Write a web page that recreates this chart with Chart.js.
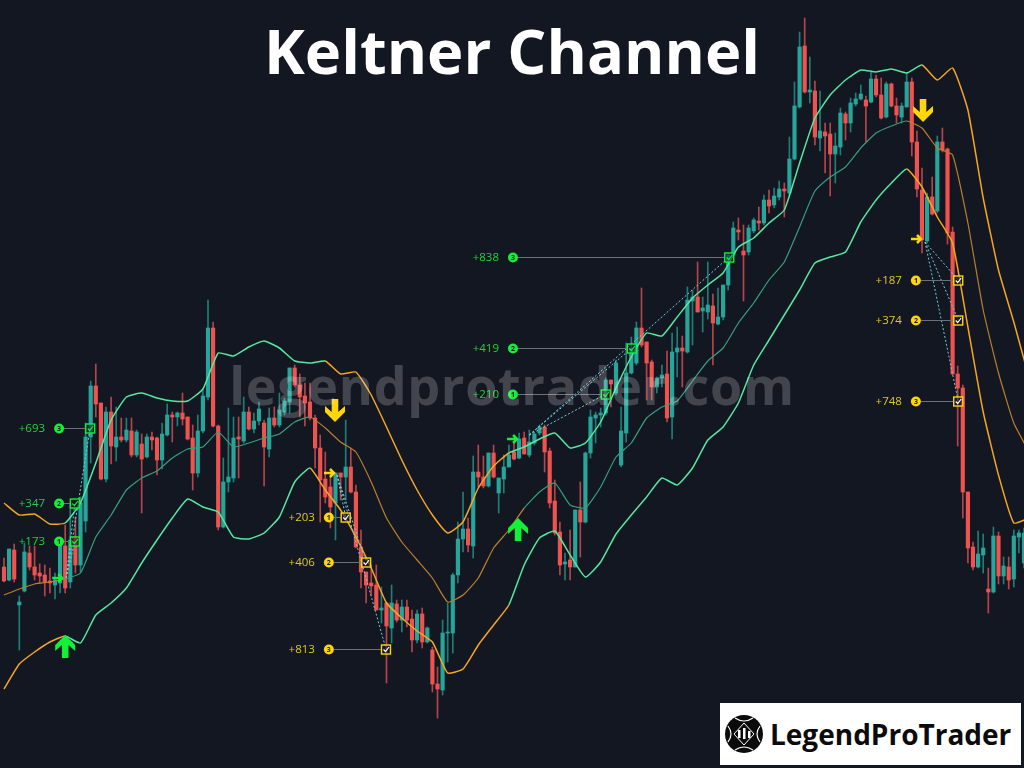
<!DOCTYPE html>
<html>
<head>
<meta charset="utf-8">
<title>Keltner Channel</title>
<script src="https://cdn.jsdelivr.net/npm/chart.js@4"></script>
<style>
  html, body { margin: 0; padding: 0; background: #131722; width: 1024px; height: 768px; overflow: hidden; }
  #wrap { position: relative; width: 1024px; height: 768px; font-family: "Open Sans", sans-serif; }
  canvas { position: absolute; left: 0; top: 0; }
  #title { position: absolute; left: 0; top: 9px; width: 1024px; text-align: center; color: #fff; font-size: 61.5px; font-weight: 700; line-height: 82px; }
  #watermark { position: absolute; left: 0; top: 350px; width: 1024px; text-align: center; color: rgba(255,255,255,0.2); font-size: 52px; font-weight: 700; line-height: 70px; letter-spacing: 0.7px; }
  #logo { position: absolute; left: 720px; top: 703px; width: 301px; height: 62px; background: #fff; color: #0b0b0b; }
  #logo svg { position: absolute; left: 5px; top: 12px; }
  #logo span { position: absolute; left: 50px; top: 11px; font-size: 28px; font-weight: 700; line-height: 40px; }
</style>
</head>
<body>
<div id="wrap">
  <canvas id="myChart" width="1024" height="768"></canvas>
  <div id="title">Keltner Channel</div>
  <div id="watermark">legendprotrader.com</div>
  <div id="logo">
    <svg width="38" height="38" viewBox="0 0 38 38">
      <circle cx="19" cy="19" r="19" fill="#0b0b0b"/>
      <path d="M10 3 Q19 9 28 3 M10 35 Q19 29 28 35 M3 11 Q9 19 3 27 M35 11 Q29 19 35 27" stroke="#fff" stroke-width="1.2" fill="none"/>
      <path d="M9 19 L19 8 L29 19 L19 30 Z" stroke="#fff" stroke-width="1" fill="none"/>
      <rect x="13" y="15" width="2.5" height="8" fill="#fff"/>
      <rect x="18" y="13" width="2.5" height="11" fill="#fff"/>
      <rect x="23" y="16" width="2.5" height="7" fill="#fff"/>
    </svg>
    <span>LegendProTrader</span>
  </div>
</div>
<script>
'use strict'

const open = [
  201,188,218,163,177,215,201,195,193,187,183,185,222,186,231,203,247,331,382,365,
  289,356,321,331,328,337,313,324,311,331,330,308,333,353,351,355,351,330,295,337,
  371,440,342,241,286,290,331,327,356,339,347,345,319,350,343,356,366,400,383,372,
  366,350,320,289,281,265,295,291,301,276,221,196,185,183,158,165,140,164,148,161,
  149,128,154,126,118,84,78,135,135,193,229,239,222,296,291,282,315,275,289,301,
  316,310,330,313,325,335,341,317,267,236,204,208,201,258,246,315,350,353,355,388,
  375,303,335,395,405,440,426,406,381,390,394,351,416,420,416,467,471,457,456,462,
  444,451,483,513,538,517,516,537,547,545,568,563,571,579,575,609,661,722,676,677,
  630,636,634,614,621,654,645,664,669,668,666,689,673,651,684,662,651,661,686,626,
  578,527,571,557,626,619,536,394,380,276,221,201,213,179,176,232,192,201,189,231,205
]
const high = [
  210,219,224,172,225,222,222,204,203,200,195,226,243,265,251,271,345,387,404,365,
  361,371,361,350,350,350,338,334,334,336,331,345,364,356,356,375,351,343,353,378,
  468,446,343,310,360,351,351,371,361,355,366,348,360,361,375,370,400,403,394,385,
  385,353,333,316,291,295,295,348,320,283,238,196,203,203,181,165,183,168,168,168,
  158,158,160,141,121,101,148,165,195,246,276,250,312,323,312,315,323,290,313,323,
  325,335,336,338,335,343,343,320,288,246,215,238,258,286,316,358,356,360,390,388,
  408,361,425,431,446,480,426,408,391,403,417,435,441,432,481,478,506,471,506,474,
  480,483,515,546,550,543,543,550,561,573,578,580,587,585,631,686,736,750,711,687,
  677,645,645,635,660,656,670,675,683,672,696,693,690,686,685,670,665,695,690,637,
  600,575,591,632,640,620,541,402,383,276,226,237,234,200,241,236,211,211,238,238,240
]
const low = [
  186,187,186,118,176,198,188,185,172,175,169,175,175,180,195,196,236,305,351,288,
  286,304,307,326,326,311,311,255,310,318,293,299,332,326,342,343,328,278,291,335,
  368,341,238,240,276,286,290,325,338,335,343,282,311,341,341,353,355,381,351,342,
  348,300,246,265,240,228,268,268,275,220,180,165,173,158,145,85,125,146,136,141,
  116,125,120,125,76,50,73,106,115,185,216,216,210,281,280,281,290,255,275,301,
  308,309,314,311,323,333,296,260,233,193,188,188,201,211,245,310,325,341,353,361,
  373,301,326,394,403,421,368,368,375,381,346,329,391,381,415,423,456,436,449,403,
  443,448,478,510,528,467,513,535,538,543,555,560,568,551,573,608,660,675,665,623,
  617,595,572,585,613,628,636,662,668,626,665,671,649,650,661,645,645,661,612,571,
  515,525,553,555,616,524,393,322,250,205,198,200,195,155,175,184,184,179,181,215,200
]
const close = [
  187,219,189,166,216,201,193,192,186,185,188,224,180,228,203,265,331,382,364,289,
  356,322,331,328,338,313,336,309,331,328,308,334,353,351,355,349,329,295,337,372,
  440,342,241,286,291,330,329,356,339,347,359,321,350,343,358,367,400,383,371,365,
  350,320,288,271,261,295,291,301,276,221,196,183,182,158,160,142,165,148,161,148,
  128,154,126,140,84,79,135,136,193,229,239,223,296,291,282,315,291,290,301,313,
  309,329,314,326,334,341,316,265,235,203,206,201,258,246,315,351,353,355,388,384,
  405,337,395,420,440,423,405,381,390,393,350,416,420,417,468,471,456,460,463,445,
  451,483,513,540,536,513,540,548,545,568,562,572,579,577,609,662,721,676,678,631,
  637,632,614,622,655,645,665,669,674,662,689,673,650,684,662,653,662,686,626,579,
  528,571,554,626,618,535,394,380,276,220,201,214,220,176,232,192,202,188,232,235,235
]

// channel lines, read every third candle
const bandStep = 3
const upper = [
  265,253,254,244,245,265,305,348,371,375,370,367,367,379,415,412,421,427,420,407,
  405,407,394,396,373,341,308,278,253,235,246,280,302,315,321,329,335,320,325,346,
  380,411,435,432,451,470,483,495,521,530,545,558,605,650,673,688,698,696,699,695,
  703,688,700,658,570,498,446,390
]
const middle = [
  173,179,184,186,189,195,231,253,278,290,297,310,319,321,336,321,325,330,334,346,
  351,340,326,316,286,250,226,208,190,166,173,190,220,238,260,276,285,263,260,281,
  311,325,350,361,367,387,407,420,445,465,488,506,541,577,591,601,620,635,642,647,
  640,620,613,545,458,395,345,316
]
const lower = [
  79,104,116,126,132,125,153,165,180,205,228,250,269,261,256,231,229,235,251,286,
  300,278,258,231,200,165,150,137,126,95,99,123,143,163,203,230,237,213,191,206,
  234,253,271,290,283,300,328,341,365,403,428,453,478,505,511,516,546,568,585,599,
  581,551,525,441,356,293,245,250
]

// candle ranges where each line is in its down (orange) state
const upperDown = [[-1, 12], [63, 99], [180, 210]]
const middleDown = [[-1, 12], [60, 102], [177, 210]]
const lowerDown = [[-1, 12], [60, 99], [177, 210]]

// signals: buy, sell, buy, sell
const signalSide = ['buy', 'sell', 'buy', 'sell']
const entryIdx = [12.2, 65.3, 103, 180.6]
const entryPrice = [190, 293, 333, 526]
const bigArrowIdx = [12, 64.9, 100.8, 180.2]
const bigArrowPrice = [133, 346, 250, 646]
const smallArrowIdx = [11.6, 64.9, 100.8, 180]
const smallArrowPrice = [190, 295, 329, 529]
const badgeIdx = [10.8, 63.7, 99.8, 178.8]

const targetSignal = [0, 0, 0, 1, 1, 1, 2, 2, 2, 3, 3, 3]
const targetStep = [1, 2, 3, 1, 2, 3, 1, 2, 3, 1, 2, 3]
const targetIdx = [13.9, 13.9, 16.9, 67, 71, 74.9, 118, 123.1, 142.2, 187.1, 187.1, 187.1]
const targetPrice = [227, 265, 340, 251, 206, 119, 374, 420, 511, 488, 448, 367]
const targetText = ['+173', '+347', '+693', '+203', '+406', '+813', '+210', '+419', '+838', '+187', '+374', '+748']

const GREEN = '#12f038'
const YELLOW = '#ffd60a'
const TEAL = '#26a69a'
const RED = '#ef5350'

const candleIdx = open.map((v, i) => i)
const isUp = (i) => close[i] >= open[i]

const bandSeries = (values) => values.map((v, k) => ({ x: k * bandStep, y: v }))

const inRanges = (ranges, x) => ranges.some((r) => x >= r[0] && x < r[1])

const bandDataset = (label, values, ranges, upColor, downColor, width) => ({
  type: 'line',
  label: label,
  data: bandSeries(values),
  borderWidth: width,
  pointRadius: 0,
  tension: 0.15,
  order: 1,
  borderColor: upColor,
  segment: {
    borderColor: (ctx) => inRanges(ranges, ctx.p0.parsed.x) ? downColor : upColor
  }
})

const drawBigArrow = (c, x, y, dir, color) => {
  // tip at x,y; dir 1 = arrow pointing up, -1 = pointing down
  const d = dir
  c.fillStyle = color
  c.beginPath()
  c.moveTo(x, y)
  c.lineTo(x + 10, y + d * 10)
  c.lineTo(x + 10, y + d * 16)
  c.lineTo(x + 3.3, y + d * 10)
  c.lineTo(x + 3.3, y + d * 23)
  c.lineTo(x - 3.3, y + d * 23)
  c.lineTo(x - 3.3, y + d * 10)
  c.lineTo(x - 10, y + d * 16)
  c.lineTo(x - 10, y + d * 10)
  c.closePath()
  c.fill()
}

const drawSmallArrow = (c, x, y, color) => {
  c.strokeStyle = color
  c.lineWidth = 2.5
  c.beginPath()
  c.moveTo(x - 11, y)
  c.lineTo(x - 1, y)
  c.moveTo(x - 5, y - 4)
  c.lineTo(x - 1, y)
  c.lineTo(x - 5, y + 4)
  c.stroke()
}

const signalsPlugin = {
  id: 'signals',
  afterDatasetsDraw(chart) {
    const c = chart.ctx
    const sx = chart.scales.x
    const sy = chart.scales.y
    c.save()

    // dotted paths from the entry to each target
    targetIdx.forEach((idx, t) => {
      const s = targetSignal[t]
      c.strokeStyle = '#6fd0d8'
      c.lineWidth = 1
      c.setLineDash([2, 2])
      c.beginPath()
      c.moveTo(sx.getPixelForValue(entryIdx[s]), sy.getPixelForValue(entryPrice[s]))
      c.lineTo(sx.getPixelForValue(idx), sy.getPixelForValue(targetPrice[t]))
      c.stroke()
    })
    c.setLineDash([])

    targetIdx.forEach((idx, t) => {
      const s = targetSignal[t]
      const color = signalSide[s] === 'buy' ? GREEN : YELLOW
      const x = sx.getPixelForValue(idx)
      const y = Math.round(sy.getPixelForValue(targetPrice[t])) + 0.5
      const bx = sx.getPixelForValue(badgeIdx[s])

      c.strokeStyle = '#6d7078'
      c.lineWidth = 1
      c.beginPath()
      c.moveTo(bx + 5, y)
      c.lineTo(x - 5, y)
      c.stroke()

      c.strokeStyle = color
      c.lineWidth = 1.4
      c.fillStyle = 'rgba(19,23,34,0.55)'
      c.fillRect(x - 4.5, y - 4.5, 9, 9)
      c.strokeRect(x - 4.5, y - 4.5, 9, 9)
      c.lineWidth = 1.2
      c.strokeStyle = signalSide[s] === 'buy' ? GREEN : '#ffffff'
      c.beginPath()
      c.moveTo(x - 2.5, y)
      c.lineTo(x - 0.5, y + 2)
      c.lineTo(x + 3, y - 2.5)
      c.stroke()

      c.fillStyle = color
      c.beginPath()
      c.arc(bx, y, 5, 0, Math.PI * 2)
      c.fill()
      c.fillStyle = '#131722'
      c.font = 'bold 7px "Open Sans"'
      c.textAlign = 'center'
      c.textBaseline = 'middle'
      c.fillText(String(targetStep[t]), bx, y + 0.5)

      c.fillStyle = signalSide[s] === 'buy' ? '#1fd43a' : '#e0c91e'
      c.font = '11.5px "Open Sans"'
      c.textAlign = 'right'
      c.fillText(targetText[t], bx - 14, y + 0.5)
    })

    signalSide.forEach((side, s) => {
      const color = side === 'buy' ? GREEN : YELLOW
      drawBigArrow(c, sx.getPixelForValue(bigArrowIdx[s]), sy.getPixelForValue(bigArrowPrice[s]), side === 'buy' ? 1 : -1, color)
      drawSmallArrow(c, sx.getPixelForValue(smallArrowIdx[s]), sy.getPixelForValue(smallArrowPrice[s]), color)
    })

    c.restore()
  }
}

const ctx = document.getElementById('myChart')

const myChart = new Chart(ctx, {
  type: 'bar',
  data: {
    datasets: [
      {
        label: 'wicks',
        data: candleIdx.map((i) => ({ x: i, y: [low[i], high[i]] })),
        backgroundColor: candleIdx.map((i) => isUp(i) ? '#1f7f78' : '#b8444a'),
        barThickness: 1,
        grouped: false,
        order: 3
      },
      {
        label: 'bodies',
        data: candleIdx.map((i) => ({ x: i, y: [open[i], close[i]] })),
        backgroundColor: candleIdx.map((i) => isUp(i) ? TEAL : RED),
        barThickness: 3.5,
        grouped: false,
        order: 2
      },
      bandDataset('upper', upper, upperDown, '#55e8a0', '#f5a623', 1.5),
      bandDataset('middle', middle, middleDown, '#359e7e', '#b97f2c', 1.2),
      bandDataset('lower', lower, lowerDown, '#55e8a0', '#f5a623', 1.5)
    ]
  },
  options: {
    responsive: false,
    animation: false,
    layout: { padding: 0 },
    plugins: {
      legend: { display: false },
      tooltip: { enabled: false }
    },
    scales: {
      x: { type: 'linear', offset: false, min: -0.784, max: 200, display: false },
      y: { type: 'linear', min: 0, max: 768, display: false }
    }
  },
  plugins: [signalsPlugin]
})
</script>
</body>
</html>
